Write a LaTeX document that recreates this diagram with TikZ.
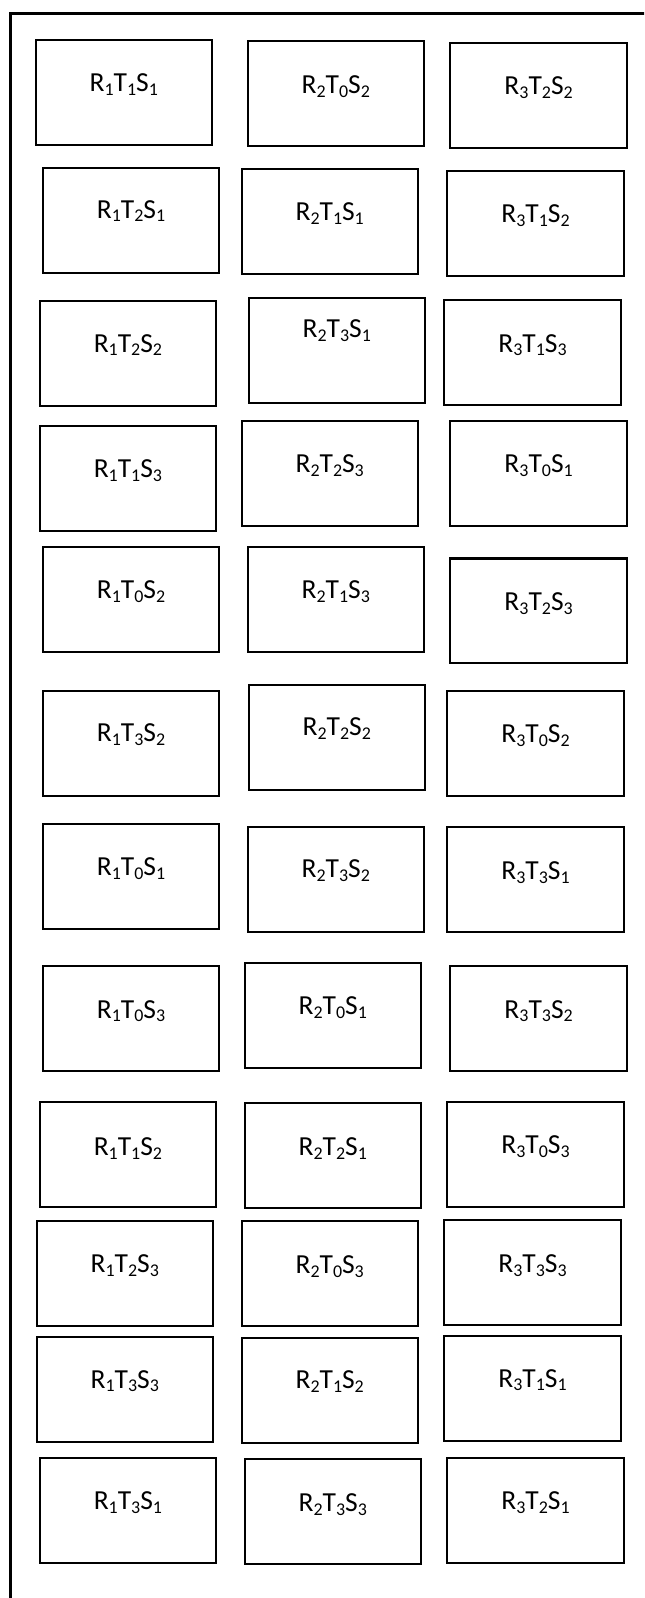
\documentclass[tikz,border=0pt]{standalone}
\usepackage{fontspec}
\setmainfont{Carlito}
\newcommand\sub[1]{\raisebox{-1.9pt}{\fontsize{8.8}{9}\selectfont #1}}
\tikzset{
  cellbox/.style={draw=black, line width=1pt, minimum width=86.5pt, minimum height=51.5pt, inner sep=0pt, outer sep=0pt},
  lab/.style={inner sep=0pt, font=\fontsize{13.5}{16}\selectfont},
  frame/.style={draw=black, line width=1.2pt}
}
\newcommand\cell[7]{\node[cellbox] (#1) at (#2,#3) {};
  \node[lab, anchor=base] (#1t) at (#2,#4+8) {R\sub{#5}T\sub{#6}S\sub{#7}};}
\begin{document}
\begin{tikzpicture}[x=0.5pt,y=-0.5pt]
\useasboundingbox (0,0) rectangle (632,1568);
\clip (0,0) rectangle (632,1568);
\fill[white] (0,0) rectangle (632,1568);
\node[frame, anchor=north west, minimum width=330pt, minimum height=800pt, inner sep=0pt] (outer) at (9,12) {};
% row 1
\cell{a1}{121.5}{90.5}{82}{1}{1}{1}
\cell{b1}{329.5}{92}{83.5}{2}{0}{2}
\cell{c1}{528.5}{93.5}{85}{3}{2}{2}
% row 2
\cell{a2}{128.5}{216.5}{206}{1}{2}{1}
\cell{b2}{323.5}{217.5}{208}{2}{1}{1}
\cell{c2}{525.5}{219.5}{210}{3}{1}{2}
% row 3
\cell{a3}{125.5}{346.5}{337.5}{1}{2}{2}
\cell{b3}{330.5}{343.5}{323.5}{2}{3}{1}
\cell{c3}{522.5}{345.5}{337.5}{3}{1}{3}
% row 4
\cell{a4}{125.5}{469.5}{461}{1}{1}{3}
\cell{b4}{323.5}{464.5}{456}{2}{2}{3}
\cell{c4}{528.5}{464.5}{455.5}{3}{0}{1}
% row 5
\cell{a5}{128.5}{588}{579}{1}{0}{2}
\cell{b5}{329.5}{588.5}{579}{2}{1}{3}
\cell{c5}{528.5}{599.5}{591.5}{3}{2}{3}
% row 6
\cell{a6}{128.5}{729.5}{720}{1}{3}{2}
\cell{b6}{330.5}{723.5}{713.5}{2}{2}{2}
\cell{c6}{525.5}{729.5}{720.5}{3}{0}{2}
% row 7
\cell{a7}{128.5}{860}{851}{1}{0}{1}
\cell{b7}{329.5}{863}{853.5}{2}{3}{2}
\cell{c7}{525.5}{863}{855}{3}{3}{1}
% row 8
\cell{a8}{128.5}{999.5}{991}{1}{0}{3}
\cell{b8}{326.5}{996.5}{987.5}{2}{0}{1}
\cell{c8}{528.5}{999.5}{991}{3}{3}{2}
% row 9
\cell{a9}{125.5}{1132.5}{1125.5}{1}{1}{2}
\cell{b9}{326.5}{1133.5}{1126}{2}{2}{1}
\cell{c9}{525.5}{1132.5}{1123.5}{3}{0}{3}
% row 10
\cell{a10}{122.5}{1249.5}{1241}{1}{2}{3}
\cell{b10}{323.5}{1249.5}{1241.5}{2}{0}{3}
\cell{c10}{522.5}{1248.5}{1240.5}{3}{3}{3}
% row 11
\cell{a11}{122.5}{1363.5}{1354}{1}{3}{3}
\cell{b11}{323.5}{1364.5}{1354.5}{2}{1}{2}
\cell{c11}{522.5}{1362.5}{1353}{3}{1}{1}
% row 12
\cell{a12}{125.5}{1482.5}{1473.5}{1}{3}{1}
\cell{b12}{326.5}{1483.5}{1475}{2}{3}{3}
\cell{c12}{525.5}{1482}{1473}{3}{2}{1}
\end{tikzpicture}
\end{document}
